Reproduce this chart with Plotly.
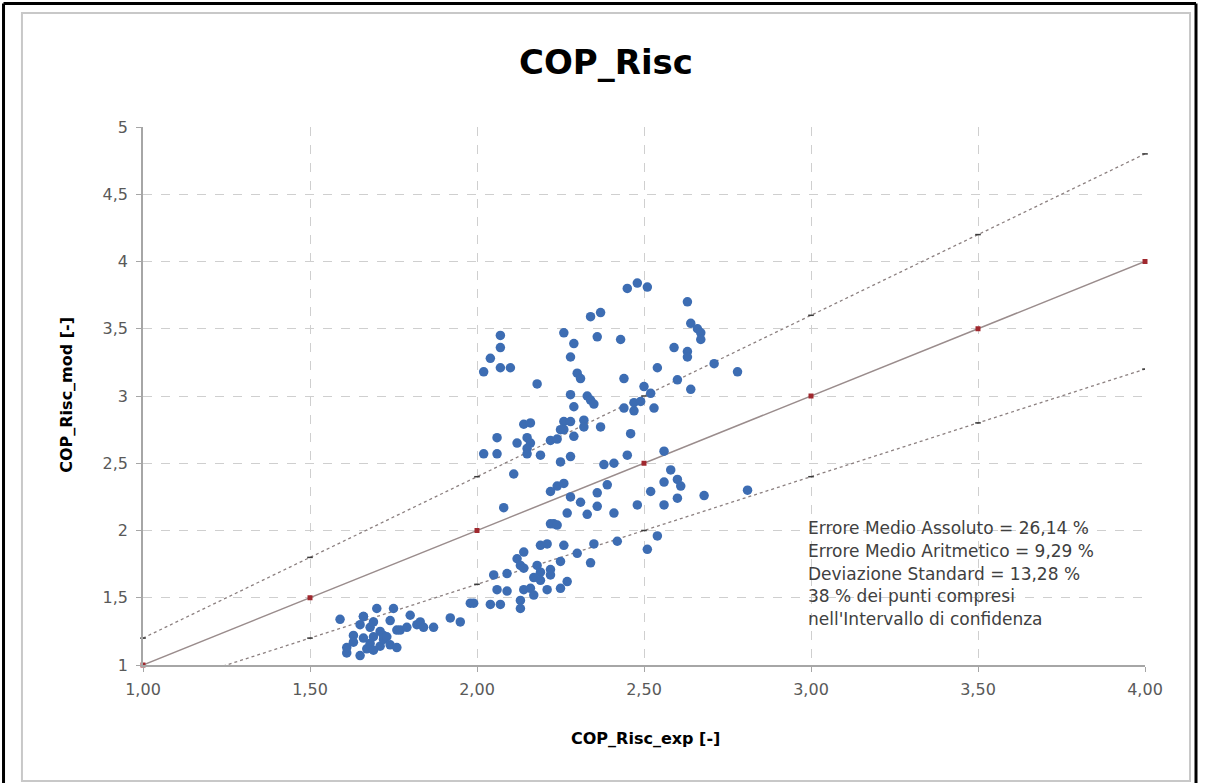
import plotly.graph_objects as go

# ---------------- data ----------------
cop_exp = [
    # low cluster
    1.59, 1.61, 1.63, 1.63, 1.65, 1.66, 1.66, 1.67, 1.68, 1.69, 1.70, 1.71, 1.71, 1.72, 1.72,
    1.73, 1.75, 1.74, 1.74, 1.76, 1.76, 1.77, 1.79, 1.80, 1.82, 1.83, 1.84, 1.87, 1.92, 1.95,
    1.98, 1.69, 1.68, 1.69, 1.66, 1.61, 1.65,
    # middle cluster
    2.07, 2.07, 2.04, 2.02, 2.07, 2.10,
    2.26, 2.36, 2.29, 2.28, 2.30, 2.31, 2.18, 2.28, 2.33, 2.34, 2.35, 2.29,
    2.14, 2.16, 2.26, 2.28, 2.32, 2.25, 2.26, 2.32, 2.37, 2.29, 2.06, 2.15, 2.16, 2.12,
    2.22, 2.24, 2.15, 2.15, 2.19, 2.02, 2.06, 2.28, 2.25, 2.11, 2.38, 2.41, 2.24, 2.26,
    2.22, 2.28, 2.36, 2.39,
    2.08, 2.22, 2.23, 2.24, 2.31, 2.36, 2.33, 2.27, 2.41, 2.19, 2.21, 2.26, 2.35, 2.14,
    2.30, 2.34, 2.42, 2.12, 2.13, 2.14, 2.18, 2.19, 2.22, 2.22, 2.25, 2.05, 2.09, 2.17,
    2.19, 2.06, 2.09, 2.14, 2.16, 2.17, 2.21, 2.25, 2.27, 2.04, 2.07, 2.13, 2.13, 1.99,
    # right cluster
    2.45, 2.48, 2.51, 2.37, 2.34, 2.63, 2.64, 2.66, 2.67, 2.67, 2.43, 2.59, 2.63, 2.63,
    2.71, 2.78, 2.54, 2.44, 2.60, 2.64, 2.50, 2.52, 2.44, 2.47, 2.49, 2.47, 2.53, 2.46,
    2.45, 2.56, 2.58, 2.56, 2.60, 2.61, 2.52, 2.60, 2.68, 2.81, 2.48, 2.56, 2.54, 2.51,
]
cop_mod = [
    # low cluster
    1.34, 1.09, 1.22, 1.17, 1.07, 1.36, 1.36, 1.12, 1.28, 1.32, 1.42, 1.25, 1.14, 1.19, 1.22,
    1.21, 1.42, 1.33, 1.15, 1.13, 1.26, 1.26, 1.28, 1.37, 1.30, 1.32, 1.28, 1.28, 1.35, 1.32,
    1.46, 1.21, 1.16, 1.11, 1.20, 1.13, 1.30,
    # middle cluster
    3.45, 3.36, 3.28, 3.18, 3.21, 3.21,
    3.47, 3.44, 3.39, 3.29, 3.17, 3.13, 3.09, 3.01, 3.00, 2.97, 2.94, 2.92,
    2.79, 2.80, 2.81, 2.81, 2.82, 2.75, 2.75, 2.77, 2.77, 2.70, 2.69, 2.69, 2.65, 2.65,
    2.67, 2.68, 2.61, 2.57, 2.56, 2.57, 2.57, 2.55, 2.51, 2.42, 2.49, 2.50, 2.33, 2.35,
    2.29, 2.25, 2.28, 2.34,
    2.17, 2.05, 2.05, 2.04, 2.21, 2.18, 2.12, 2.13, 2.13, 1.89, 1.90, 1.89, 1.90, 1.84,
    1.83, 1.76, 1.92, 1.79, 1.74, 1.72, 1.74, 1.69, 1.71, 1.67, 1.77, 1.67, 1.68, 1.65,
    1.63, 1.56, 1.55, 1.56, 1.57, 1.52, 1.56, 1.57, 1.62, 1.45, 1.45, 1.48, 1.42, 1.46,
    # right cluster
    3.80, 3.84, 3.81, 3.62, 3.59, 3.70, 3.54, 3.50, 3.47, 3.42, 3.42, 3.36, 3.33, 3.29,
    3.24, 3.18, 3.21, 3.13, 3.12, 3.05, 3.07, 3.02, 2.91, 2.95, 2.96, 2.89, 2.91, 2.72,
    2.56, 2.59, 2.45, 2.36, 2.38, 2.33, 2.29, 2.24, 2.26, 2.30, 2.19, 2.19, 1.96, 1.86,
]

ref_x = [1.0, 1.5, 2.0, 2.5, 3.0, 3.5, 4.0]
ideal_y = [1.0, 1.5, 2.0, 2.5, 3.0, 3.5, 4.0]
upper_y = [1.2, 1.8, 2.4, 3.0, 3.6, 4.2, 4.8]
lower_y = [0.8, 1.2, 1.6, 2.0, 2.4, 2.8, 3.2]

x_ticks = [1.0, 1.5, 2.0, 2.5, 3.0, 3.5, 4.0]
y_ticks = [1, 1.5, 2, 2.5, 3, 3.5, 4, 4.5, 5]

title_text = "COP_Risc"
x_title = "COP_Risc_exp [-]"
y_title = "COP_Risc_mod [-]"
stat_lines = [
    "Errore Medio Assoluto = 26,14 %",
    "Errore Medio Aritmetico = 9,29 %",
    "Deviazione Standard = 13,28 %",
    "38 % dei punti compresi",
    "nell'Intervallo di confidenza",
]
stat_line_y = [2.02, 1.85, 1.68, 1.51, 1.34]

# ---------------- figure ----------------
FONT = "DejaVu Sans"
fig = go.Figure()

dot_marker = dict(color="#3A3A3A", size=4, symbol="line-ew-open", line=dict(width=1.5, color="#3A3A3A"))
fig.add_trace(go.Scatter(
    x=ref_x, y=upper_y, mode="lines+markers",
    line=dict(color="#8C8080", width=1.3, dash="dot"), marker=dot_marker,
    cliponaxis=False, showlegend=False, hoverinfo="skip"))
fig.add_trace(go.Scatter(
    x=ref_x, y=lower_y, mode="lines+markers",
    line=dict(color="#8C8080", width=1.3, dash="dot"), marker=dot_marker,
    cliponaxis=True, showlegend=False, hoverinfo="skip"))
fig.add_trace(go.Scatter(
    x=ref_x, y=ideal_y, mode="lines+markers",
    line=dict(color="#9A8C8C", width=1.5),
    marker=dict(color="#A0282E", size=5, symbol="square"),
    cliponaxis=False, showlegend=False, hoverinfo="skip"))
fig.add_trace(go.Scatter(
    x=cop_exp, y=cop_mod, mode="markers",
    marker=dict(color="#3D6DB3", size=9.5, line=dict(width=0)),
    showlegend=False))

annotations = [
    dict(text="<b>" + title_text + "</b>", xref="paper", yref="paper", x=0.462, y=1.121,
         xanchor="center", yanchor="middle", showarrow=False,
         font=dict(family=FONT, size=34, color="#000000")),
    dict(text="<b>" + y_title + "</b>", xref="paper", yref="paper", x=-0.076, y=0.502,
         xanchor="center", yanchor="middle", textangle=-90, showarrow=False,
         font=dict(family=FONT, size=16, color="#000000")),
    dict(text="<b>" + x_title + "</b>", xref="paper", yref="paper", x=0.501, y=-0.1375,
         xanchor="center", yanchor="middle", showarrow=False,
         font=dict(family=FONT, size=16, color="#000000")),
]
for line, yy in zip(stat_lines, stat_line_y):
    annotations.append(dict(text=line, xref="x", yref="y", x=2.985, y=yy,
                            xanchor="left", yanchor="middle", showarrow=False,
                            font=dict(family=FONT, size=17, color="#404040")))

shapes = [
    # light gray chart-area border
    dict(type="rect", xref="paper", yref="paper", x0=-0.1208, x1=1.0449, y0=-0.2156, y1=1.2119,
         line=dict(color="#C8C8C8", width=2), layer="below"),
    # black outer frame (top, left, right)
    dict(type="line", xref="paper", yref="paper", x0=-0.1392, x1=1.0509, y0=1.2296, y1=1.2296,
         line=dict(color="#000000", width=3)),
    dict(type="line", xref="paper", yref="paper", x0=-0.1392, x1=-0.1392, y0=-0.25, y1=1.2296,
         line=dict(color="#000000", width=3)),
    dict(type="line", xref="paper", yref="paper", x0=1.0509, x1=1.0509, y0=-0.25, y1=1.2296,
         line=dict(color="#000000", width=3)),
]

fig.update_layout(
    width=1208, height=783,
    margin=dict(l=143, r=63, t=127, b=118, pad=0),
    paper_bgcolor="white", plot_bgcolor="white",
    separators=",.",
    annotations=annotations, shapes=shapes,
    showlegend=False,
)
axis_style = dict(
    showgrid=True, gridcolor="#CFCFCF", griddash="dash", gridwidth=1,
    showline=True, linecolor="#A6A6A6", linewidth=1.5,
    ticks="outside", ticklen=5, tickcolor="#A6A6A6",
    tickfont=dict(family=FONT, size=16, color="#595959"),
    zeroline=False,
)
fig.update_xaxes(range=[1, 4], tickvals=x_ticks, tickformat=".2f", ticklabelstandoff=4, **axis_style)
fig.update_yaxes(range=[1, 5], tickvals=y_ticks, ticklabelstandoff=5, **axis_style)

fig.write_html("out.html", config={"displayModeBar": False},
               post_script="document.body.style.margin='0';document.body.style.overflow='hidden';")
